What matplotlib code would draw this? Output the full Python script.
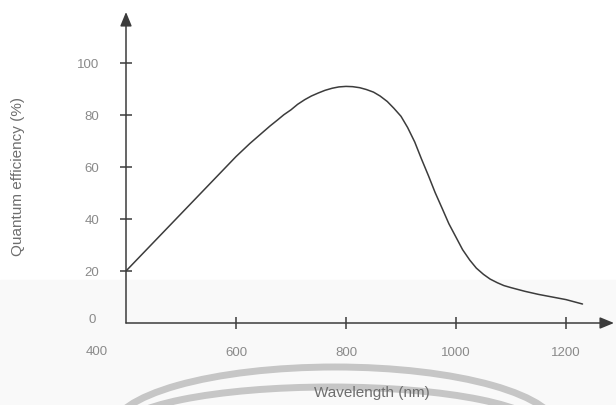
#!/usr/bin/env python3
"""Quantum efficiency vs wavelength, redrawn from a scanned figure."""

import matplotlib

matplotlib.use("Agg")
import matplotlib.pyplot as plt
from matplotlib.patches import Arc, Rectangle

plt.rcParams["font.family"] = ["Liberation Sans", "DejaVu Sans"]

# ── Data ─────────────────────────────────────────────────────────────────────
wavelength_nm = [400, 450, 500, 550, 600, 625, 650, 662, 675, 687,
                 700, 712, 725, 737, 750, 762, 775, 787, 800, 812,
                 825, 837, 850, 862, 875, 887, 900, 912, 925, 937,
                 950, 962, 975, 987, 1000, 1012, 1025, 1037, 1050, 1062,
                 1075, 1087, 1100, 1125, 1150, 1175, 1200, 1230]
qe_percent = [20, 31, 42, 53, 64, 69, 73.6, 75.8, 78, 80.1,
              82, 84.1, 85.9, 87.3, 88.5, 89.5, 90.3, 90.8, 91, 90.9,
              90.5, 89.8, 88.8, 87.3, 85.2, 82.6, 79.5, 75.2, 69.6, 63.2,
              56.6, 50.2, 44, 38.2, 33, 28.2, 24.2, 21.1, 18.7, 16.9,
              15.5, 14.4, 13.6, 12.2, 11, 10, 9, 7.3]
x_ticks = [600, 800, 1000, 1200]
y_ticks = [20, 40, 60, 80, 100]

W, H = 616, 405
ink = "#3c3c3c"
tick_grey = "#8a8a8a"

fig = plt.figure(figsize=(W / 100, H / 100), dpi=100)
fig.patch.set_facecolor("white")

# faint grey band of the scan + the two watermark arcs
fig.patches.append(Rectangle((0, 0), 1, (H - 280) / H, transform=fig.transFigure,
                             color="#f9f9f9", zorder=0))
for cx, a, b in [(335, 223, 63), (331, 211, 43)]:
    fig.patches.append(Arc((cx / W, (H - 430) / H), 2 * a / W, 2 * b / H,
                           theta1=0, theta2=180, transform=fig.transFigure,
                           color="#c6c6c6", lw=5, zorder=0.5))

# axes placed so that the origin sits at pixel (126, 323)
ox, oy, xr, yt = 126, 323, 614, 12
ax = fig.add_axes([ox / W, (H - oy) / H, (xr - ox) / W, (oy - yt) / H])
ax.set_zorder(2)
ax.patch.set_alpha(0)
ax.set_xlim(400, 400 + (xr - ox) / 110 * 200)
ax.set_ylim(0, (oy - yt) / 2.6)

ax.plot(wavelength_nm, qe_percent, color=ink, lw=1.1,
        solid_capstyle="round", solid_joinstyle="round")

for s in ax.spines.values():
    s.set_visible(False)
arrow = dict(arrowstyle="-|>,head_length=0.85,head_width=0.35", color=ink,
             lw=1.1, shrinkA=0, shrinkB=0)
ax.annotate("", xy=(0, 1), xytext=(0, 0), xycoords="axes fraction", arrowprops=arrow)
ax.annotate("", xy=(1, 0), xytext=(0, 0), xycoords="axes fraction", arrowprops=arrow)

ax.set_xticks(x_ticks)
ax.set_yticks(y_ticks)
ax.tick_params(axis="both", direction="inout", length=8.6, width=1.1,
               color=ink, labelcolor=tick_grey, labelsize=9.5)
ax.tick_params(axis="y", pad=15)
ax.tick_params(axis="x", pad=13)

# origin labels sit off the ticks in the original
fig.text(92 / W, 1 - 320 / H, "0", ha="center", va="center",
         fontsize=9.5, color=tick_grey)
fig.text(97 / W, 1 - 352 / H, "400", ha="center", va="center",
         fontsize=9.5, color=tick_grey)

fig.text(372 / W, 1 - 393 / H, "Wavelength (nm)", ha="center", va="center",
         fontsize=11, color="#6e6e6e")
fig.text(18 / W, 1 - 177 / H, "Quantum efficiency (%)", ha="center", va="center",
         rotation=90, fontsize=11, color="#6e6e6e")

fig.savefig("out.png", dpi=100)
